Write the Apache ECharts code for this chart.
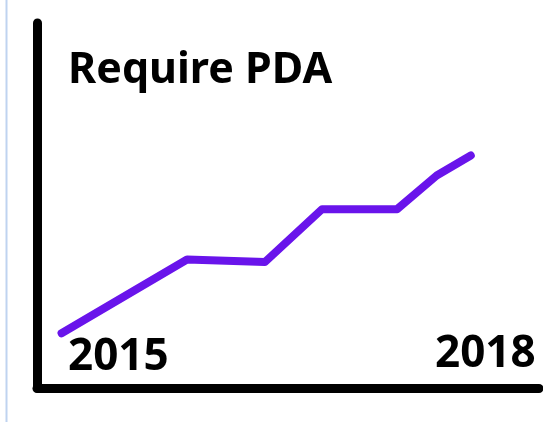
<!DOCTYPE html>
<html>
<head>
<meta charset="utf-8">
<title>Require PDA</title>
<script src="https://cdn.jsdelivr.net/npm/echarts@6/dist/echarts.min.js"></script>
<style>
  html, body { margin: 0; padding: 0; background: #fff; }
  #chart { width: 543px; height: 422px; }
</style>
</head>
<body>
<div id="chart"></div>
<script>
// data (x in years, y as a 0-100 level)
const years = [2015, 2015.92, 2016.49, 2016.91, 2017.46, 2017.75, 2018];
const levels = [15, 35.2, 34.5, 49, 49, 58.2, 63.7];
const startLabel = "2015";
const endLabel = "2018";
const titleText = "Require PDA";

const lineColor = "#6914eb";
const axisStyle = { color: "#000", width: 9, cap: "round" };
const bigFont = "'Noto Sans', sans-serif";

const chart = echarts.init(document.getElementById("chart"));
chart.setOption({
  animation: false,
  title: [
    {
      text: titleText,
      left: 63,
      top: 44,
      textStyle: { fontFamily: bigFont, fontSize: 43, fontWeight: "bold", color: "#000" }
    },
    {
      text: startLabel,
      left: 63,
      top: 330,
      textStyle: { fontFamily: bigFont, fontSize: 44, fontWeight: "bold", color: "#000" }
    },
    {
      text: endLabel,
      left: 430,
      top: 327,
      textStyle: { fontFamily: bigFont, fontSize: 44, fontWeight: "bold", color: "#000" }
    }
  ],
  grid: { left: 37, right: 4, top: 23, bottom: 34 },
  xAxis: {
    type: "value",
    min: 2014.82,
    max: 2018.5,
    axisLine: { show: true, onZero: false, lineStyle: axisStyle },
    axisTick: { show: false },
    axisLabel: { show: false },
    splitLine: { show: false }
  },
  yAxis: {
    type: "value",
    min: 0,
    max: 100,
    axisLine: { show: true, onZero: false, lineStyle: axisStyle },
    axisTick: { show: false },
    axisLabel: { show: false },
    splitLine: { show: false }
  },
  graphic: [
    {
      type: "line",
      shape: { x1: 6.5, y1: 0, x2: 6.5, y2: 422 },
      style: { stroke: "#bfd3f0", lineWidth: 2 }
    }
  ],
  series: [
    {
      type: "line",
      data: years.map((y, i) => [y, levels[i]]),
      showSymbol: false,
      lineStyle: { color: lineColor, width: 8, cap: "round", join: "round" }
    }
  ]
});
</script>
</body>
</html>
